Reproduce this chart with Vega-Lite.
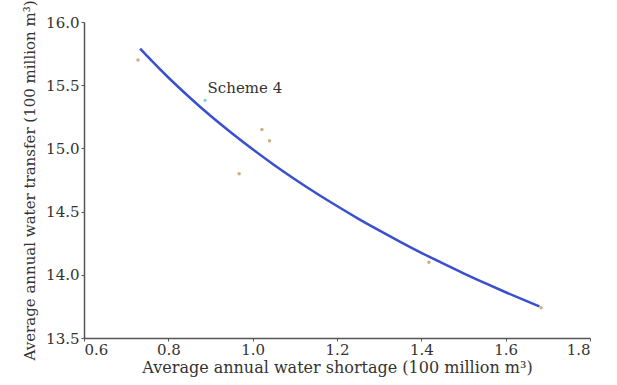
{
  "$schema": "https://vega.github.io/schema/vega-lite/v6.json",
  "autosize": "none",
  "width": 506,
  "height": 316,
  "padding": {"left": 84, "top": 22, "right": 27, "bottom": 47},
  "background": "white",
  "config": {
    "view": {"stroke": null},
    "font": "DejaVu Serif",
    "axis": {
      "grid": false,
      "domainColor": "#555",
      "domainWidth": 1.5,
      "tickColor": "#555",
      "tickSize": 3,
      "labelFont": "DejaVu Serif",
      "labelFontSize": 15,
      "labelColor": "#333",
      "titleFont": "DejaVu Serif",
      "titleFontSize": 15,
      "titleFontWeight": "normal",
      "titleColor": "#333"
    }
  },
  "datasets": {
    "pts": [
      {"shortage": 0.728, "transfer": 15.70, "type": "other"},
      {"shortage": 0.887, "transfer": 15.38, "type": "scheme4"},
      {"shortage": 1.022, "transfer": 15.15, "type": "other"},
      {"shortage": 1.040, "transfer": 15.06, "type": "other"},
      {"shortage": 0.968, "transfer": 14.80, "type": "other"},
      {"shortage": 1.418, "transfer": 14.10, "type": "other"},
      {"shortage": 1.684, "transfer": 13.74, "type": "other"}
    ],
    "curve": [
      {"shortage": 0.733, "transfer": 15.79},
      {"shortage": 0.75, "transfer": 15.730},
      {"shortage": 0.8, "transfer": 15.561},
      {"shortage": 0.85, "transfer": 15.405},
      {"shortage": 0.9, "transfer": 15.258},
      {"shortage": 0.95, "transfer": 15.122},
      {"shortage": 1.0, "transfer": 14.993},
      {"shortage": 1.05, "transfer": 14.871},
      {"shortage": 1.1, "transfer": 14.756},
      {"shortage": 1.15, "transfer": 14.647},
      {"shortage": 1.2, "transfer": 14.544},
      {"shortage": 1.25, "transfer": 14.445},
      {"shortage": 1.3, "transfer": 14.351},
      {"shortage": 1.35, "transfer": 14.261},
      {"shortage": 1.4, "transfer": 14.174},
      {"shortage": 1.45, "transfer": 14.092},
      {"shortage": 1.5, "transfer": 14.012},
      {"shortage": 1.55, "transfer": 13.936},
      {"shortage": 1.6, "transfer": 13.862},
      {"shortage": 1.65, "transfer": 13.791},
      {"shortage": 1.68, "transfer": 13.75}
    ],
    "labels": [
      {"shortage": 0.893, "transfer": 15.48, "text": "Scheme 4"}
    ]
  },
  "encoding": {
    "x": {
      "field": "shortage", "type": "quantitative",
      "scale": {"domain": [0.6, 1.8], "nice": false, "zero": false},
      "axis": {"values": [0.6, 0.8, 1.0, 1.2, 1.4, 1.6, 1.8], "format": ".1f", "title": "Average annual water shortage (100 million m³)", "titleFontSize": 16, "titlePadding": 2, "labelPadding": 1}
    },
    "y": {
      "field": "transfer", "type": "quantitative",
      "scale": {"domain": [13.5, 16.0], "nice": false, "zero": false},
      "axis": {"values": [13.5, 14.0, 14.5, 15.0, 15.5, 16.0], "format": ".1f", "title": "Average annual water transfer (100 million m³)", "titlePadding": 8, "labelPadding": 2}
    }
  },
  "layer": [
    {
      "data": {"name": "curve"},
      "mark": {"type": "line", "color": "#3a4fd0", "strokeWidth": 2.5, "interpolate": "monotone"}
    },
    {
      "data": {"name": "pts"},
      "mark": {"type": "point", "filled": true, "size": 12},
      "encoding": {
        "color": {"field": "type", "type": "nominal", "scale": {"domain": ["other", "scheme4"], "range": ["#b98a4a", "#3cc0d8"]}, "legend": null}
      }
    },
    {
      "data": {"name": "labels"},
      "mark": {"type": "text", "align": "left", "baseline": "middle", "fontSize": 15, "color": "#333", "font": "DejaVu Serif"},
      "encoding": {"text": {"field": "text"}}
    }
  ]
}
